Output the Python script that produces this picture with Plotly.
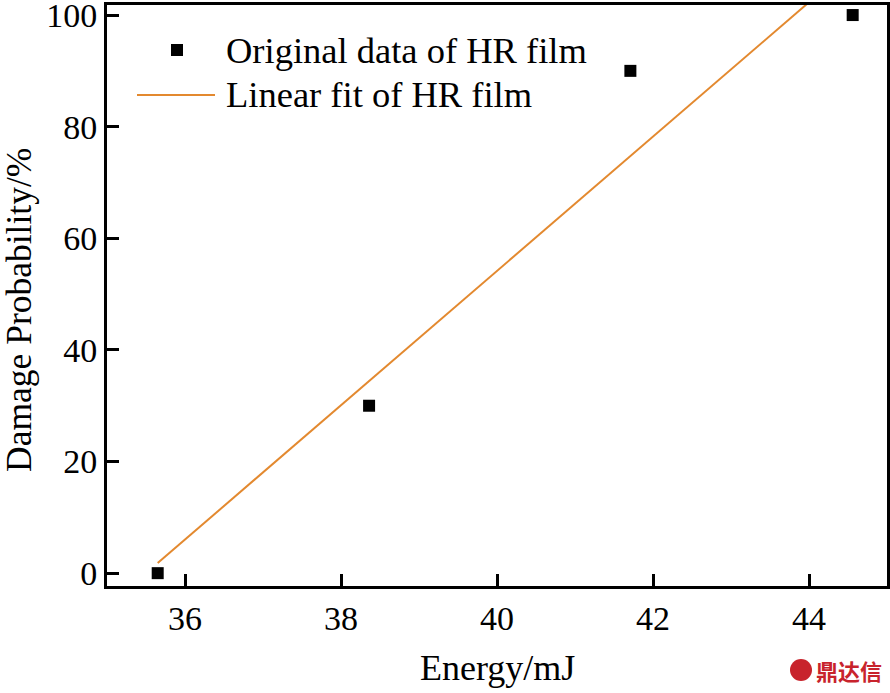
import numpy as np
import plotly.graph_objects as go

energy = [35.65, 38.36, 41.71, 44.56]
prob = [0, 30, 90, 100]
x_ticks = [36, 38, 40, 42, 44]
y_ticks = [0, 20, 40, 60, 80, 100]

slope, intercept = np.polyfit(energy, prob, 1)
fit_x = [energy[0], energy[-1]]
fit_y = [slope * v + intercept for v in fit_x]

FONT = "Liberation Serif, Times New Roman, serif"
ORANGE = "#E3892F"

W, H = 890, 693
L, R, T, B = 107, 887, 5, 586

def px(x):
    return (x - L) / (R - L)

def py(y):
    return (B - y) / (B - T)

fig = go.Figure()
fig.add_trace(go.Scatter(x=fit_x, y=fit_y, mode="lines",
                         line=dict(color=ORANGE, width=2), showlegend=False, cliponaxis=True))
fig.add_trace(go.Scatter(x=energy, y=prob, mode="markers",
                         marker=dict(symbol="square", size=12, color="black"),
                         showlegend=False, cliponaxis=False))

axis_common = dict(showgrid=False, zeroline=False, showline=True, mirror=True,
                   linecolor="black", linewidth=3, ticks="inside", ticklen=12,
                   tickwidth=2.5, tickcolor="black", ticklabeloverflow="allow",
                   automargin=False,
                   tickfont=dict(family=FONT, size=34, color="black"))
fig.update_xaxes(range=[35, 45], tickvals=x_ticks, **axis_common)
fig.update_yaxes(range=[-2.3, 101.8], tickvals=y_ticks, **axis_common)

# manual legend
fig.add_shape(type="rect", xref="paper", yref="paper",
              x0=px(171), x1=px(183), y0=py(56), y1=py(44),
              fillcolor="black", line=dict(width=0))
fig.add_shape(type="line", xref="paper", yref="paper",
              x0=px(137), x1=px(215), y0=py(95), y1=py(95),
              line=dict(color=ORANGE, width=2))
fig.add_annotation(xref="paper", yref="paper", x=px(224), y=py(50),
                   text="Original data of HR film", showarrow=False,
                   xanchor="left", yanchor="middle",
                   font=dict(family=FONT, size=36.5, color="black"))
fig.add_annotation(xref="paper", yref="paper", x=px(224), y=py(95),
                   text="Linear fit of HR film", showarrow=False,
                   xanchor="left", yanchor="middle",
                   font=dict(family=FONT, size=36.5, color="black"))

# axis titles
fig.add_annotation(xref="paper", yref="paper", x=px(497), y=py(668),
                   text="Energy/mJ", showarrow=False,
                   xanchor="center", yanchor="middle",
                   font=dict(family=FONT, size=36, color="black"))
fig.add_annotation(xref="paper", yref="paper", x=px(19), y=py(310),
                   text="Damage Probability/%", showarrow=False, textangle=-90,
                   xanchor="center", yanchor="middle",
                   font=dict(family=FONT, size=35.5, color="black"))

# watermark
fig.add_annotation(xref="paper", yref="paper", x=px(849), y=py(670),
                   text="<b>鼎达信</b>", showarrow=False,
                   xanchor="center", yanchor="middle",
                   font=dict(family="Noto Sans CJK SC", size=22, color="#C8232C"))
fig.add_shape(type="circle", xref="paper", yref="paper",
              x0=px(790), x1=px(812), y0=py(681), y1=py(659),
              fillcolor="#C8232C", line=dict(width=0))

fig.update_layout(width=W, height=H, plot_bgcolor="white", paper_bgcolor="white",
                  margin=dict(l=L, r=W - R, t=T, b=H - B), showlegend=False)

fig.write_html("out.html")
